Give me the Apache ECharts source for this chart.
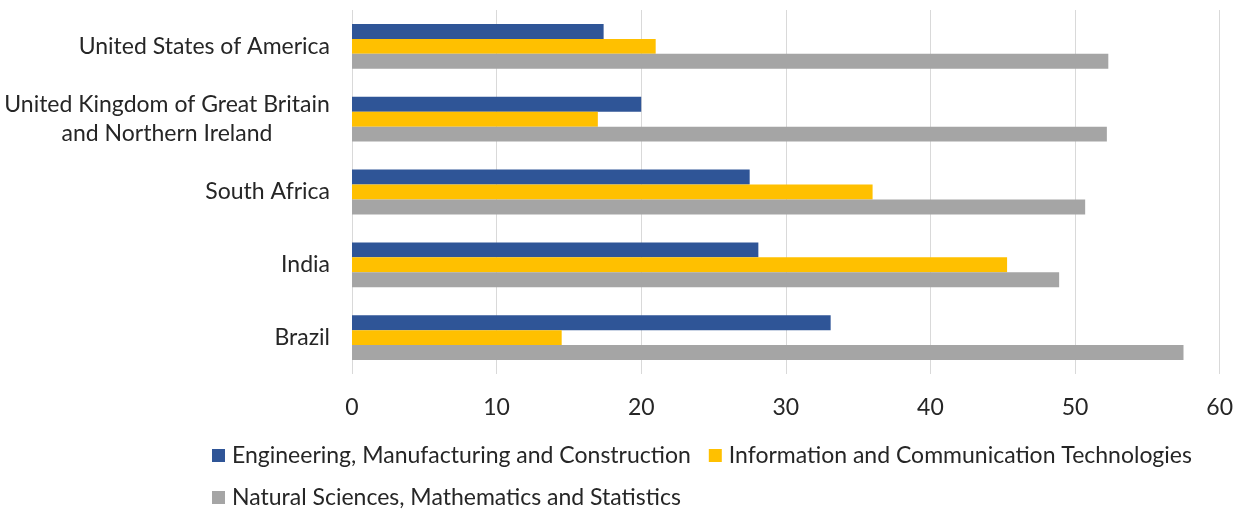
<!DOCTYPE html>
<html><head><meta charset="utf-8">
<script src="https://cdn.jsdelivr.net/npm/echarts@6/dist/echarts.min.js"></script>
<style>html,body{margin:0;padding:0;background:#fff}#c{width:1236px;height:510px}</style>
</head><body><div id="c"></div>
<script>
const categories = ["United States of America", "United Kingdom of Great Britain\nand Northern Ireland", "South Africa", "India", "Brazil"];
const seriesNames = ["Engineering, Manufacturing and Construction", "Information and Communication Technologies", "Natural Sciences, Mathematics and Statistics"];
const engineering = [17.4, 20.0, 27.5, 28.1, 33.1];
const ict = [21.0, 17.0, 36.0, 45.3, 14.5];
const naturalSciences = [52.3, 52.2, 50.7, 48.9, 57.5];
const xTicks = [0, 10, 20, 30, 40, 50, 60];
const colors = ["#2F5597", "#FFC000", "#A5A5A5"];

const font = "Lato";
const txt = '#262626';
const chart = echarts.init(document.getElementById('c'));
const mk = (name, data, color) => ({
  name, type: 'bar', data, barGap: 0, barCategoryGap: '38.5%',
  itemStyle: { color }, animation: false
});
const legendText = { fontFamily: font, fontSize: 23, color: txt, padding: [0, 0, 0, 2] };
chart.setOption({
  animation: false,
  textStyle: { fontFamily: font },
  grid: { left: 352, right: 14, top: 10, bottom: 136 },
  legend: [
    { data: [seriesNames[0], seriesNames[1]], left: 207, top: 439, itemWidth: 13, itemHeight: 13, itemGap: 18,
      icon: 'rect', textStyle: legendText },
    { data: [seriesNames[2]], left: 207, top: 481, itemWidth: 13, itemHeight: 13, itemGap: 18,
      icon: 'rect', textStyle: legendText }
  ],
  xAxis: {
    type: 'value', min: xTicks[0], max: xTicks[xTicks.length - 1], interval: 10,
    axisLine: { show: false },
    axisTick: { show: false },
    splitLine: { show: true, lineStyle: { color: '#D9D9D9', width: 1 } },
    axisLabel: { fontFamily: font, fontSize: 23, color: txt, margin: 22 }
  },
  yAxis: {
    type: 'category', data: categories, inverse: true,
    axisLine: { show: false }, axisTick: { show: false },
    axisLabel: {
      fontFamily: font, fontSize: 23, color: txt, margin: 22, lineHeight: 29, align: 'right',
      formatter: function (v) {
        if (v.indexOf('\n') < 0) return v;
        return v.split('\n').map(function (s) { return '{c|' + s + '}'; }).join('\n');
      },
      rich: { c: { fontFamily: font, fontSize: 23, color: txt, lineHeight: 29, width: 326, align: 'center' } }
    }
  },
  series: [
    mk(seriesNames[0], engineering, colors[0]),
    mk(seriesNames[1], ict, colors[1]),
    mk(seriesNames[2], naturalSciences, colors[2])
  ]
});
</script></body></html>
